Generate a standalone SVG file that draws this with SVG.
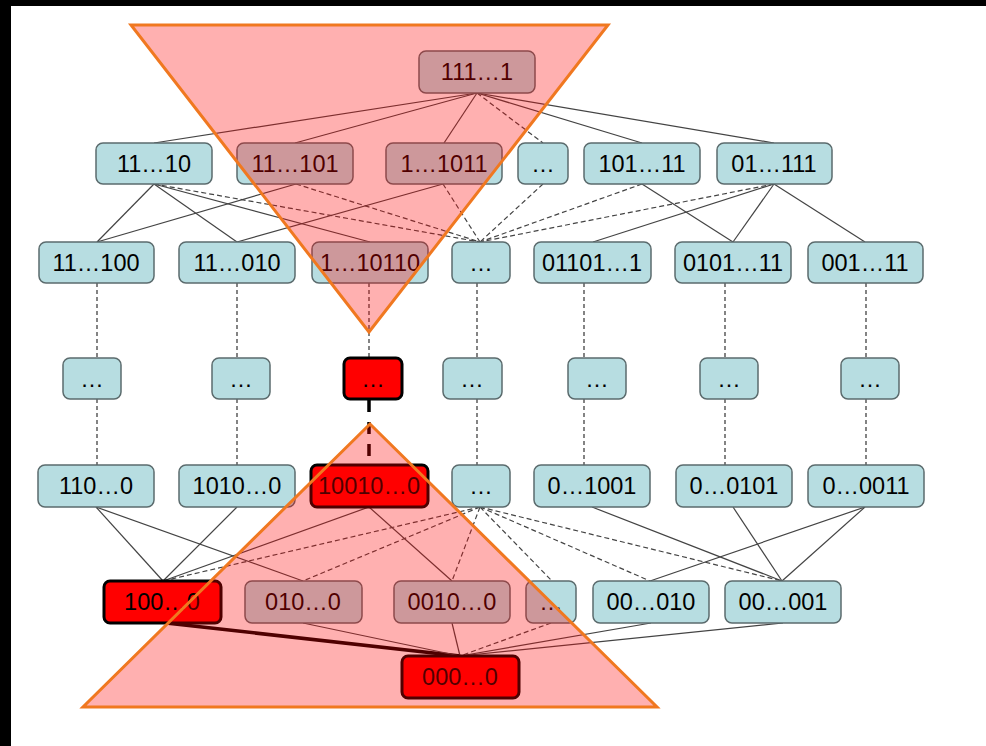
<svg xmlns="http://www.w3.org/2000/svg" width="986" height="746" viewBox="0 0 986 746">
<style>
.n rect{fill:#b7dde1;stroke:#5b6b6d;stroke-width:1.5}
.r rect{fill:#ff0000;stroke:#000;stroke-width:3}
text{font-family:"Liberation Sans",Arial,sans-serif;font-size:23.5px;fill:#000;text-anchor:middle}
.c line{stroke:#444;stroke-width:1.2;fill:none}
.c line.d{stroke-dasharray:5,3}
.c line.vd{stroke-dasharray:4,3;stroke:#333}
.tri{fill:#ff0000;fill-opacity:0.31;stroke:#f07820;stroke-width:3;stroke-linejoin:miter}
</style>
<rect x="0" y="0" width="986" height="746" fill="#fff"/>
<rect x="0" y="0" width="986" height="6" fill="#000"/>
<rect x="0" y="0" width="11" height="746" fill="#000"/>
<g id="connectors" class="c">
<line x1="477" y1="93" x2="154" y2="143"/>
<line x1="477" y1="93" x2="295" y2="143"/>
<line x1="477" y1="93" x2="444" y2="143"/>
<line class="d" x1="477" y1="93" x2="543" y2="143"/>
<line x1="477" y1="93" x2="642" y2="143"/>
<line x1="477" y1="93" x2="774" y2="143"/>
<line x1="154" y1="184" x2="97" y2="242"/>
<line x1="154" y1="184" x2="237" y2="242"/>
<line x1="154" y1="184" x2="370" y2="242"/>
<line class="d" x1="154" y1="184" x2="480" y2="242"/>
<line x1="296" y1="184" x2="97" y2="242"/>
<line class="d" x1="296" y1="184" x2="480" y2="242"/>
<line x1="443" y1="184" x2="237" y2="242"/>
<line class="d" x1="443" y1="184" x2="480" y2="242"/>
<line class="d" x1="543" y1="184" x2="480" y2="242"/>
<line class="d" x1="642" y1="184" x2="480" y2="242"/>
<line x1="642" y1="184" x2="733" y2="242"/>
<line class="d" x1="774" y1="184" x2="480" y2="242"/>
<line x1="774" y1="184" x2="593" y2="242"/>
<line x1="774" y1="184" x2="733" y2="242"/>
<line x1="774" y1="184" x2="865" y2="242"/>
<line class="vd" x1="97" y1="283" x2="97" y2="358"/>
<line class="vd" x1="97" y1="399" x2="97" y2="465"/>
<line class="vd" x1="237" y1="283" x2="237" y2="358"/>
<line class="vd" x1="237" y1="399" x2="237" y2="465"/>
<line class="vd" x1="369" y1="283" x2="369" y2="358"/>
<line x1="369" y1="400" x2="369" y2="465" style="stroke:#000;stroke-width:3.5;stroke-dasharray:12,10"/>
<line class="vd" x1="477" y1="283" x2="477" y2="358"/>
<line class="vd" x1="477" y1="399" x2="477" y2="465"/>
<line class="vd" x1="584" y1="283" x2="584" y2="358"/>
<line class="vd" x1="584" y1="399" x2="584" y2="465"/>
<line class="vd" x1="725" y1="283" x2="725" y2="358"/>
<line class="vd" x1="725" y1="399" x2="725" y2="465"/>
<line class="vd" x1="866" y1="283" x2="866" y2="358"/>
<line class="vd" x1="866" y1="399" x2="866" y2="465"/>
<line x1="96" y1="507" x2="163" y2="581"/>
<line x1="96" y1="507" x2="303" y2="581"/>
<line x1="237" y1="507" x2="163" y2="581"/>
<line x1="369" y1="507" x2="163" y2="581"/>
<line x1="369" y1="507" x2="452" y2="581"/>
<line class="d" x1="480" y1="507" x2="163" y2="581"/>
<line class="d" x1="480" y1="507" x2="303" y2="581"/>
<line class="d" x1="480" y1="507" x2="452" y2="581"/>
<line class="d" x1="480" y1="507" x2="552" y2="581"/>
<line class="d" x1="480" y1="507" x2="650" y2="581"/>
<line class="d" x1="480" y1="507" x2="782" y2="581"/>
<line x1="592" y1="507" x2="782" y2="581"/>
<line x1="733" y1="507" x2="782" y2="581"/>
<line x1="865" y1="507" x2="650" y2="581"/>
<line x1="865" y1="507" x2="782" y2="581"/>
<line x1="166" y1="623" x2="460" y2="656" style="stroke:#000;stroke-width:3.5"/>
<line x1="303" y1="623" x2="460" y2="656"/>
<line x1="452" y1="623" x2="460" y2="656"/>
<line class="d" x1="551" y1="623" x2="460" y2="656"/>
<line x1="651" y1="623" x2="460" y2="656"/>
<line x1="783" y1="623" x2="460" y2="656"/>
</g>
<g id="n111" class="n"><rect x="419" y="51" width="116" height="42" rx="7"/><text x="477" y="80">111…1</text></g>
<g id="n11_10" class="n"><rect x="96" y="143" width="116" height="41" rx="7"/><text x="154" y="172">11…10</text></g>
<g id="n11_101" class="n"><rect x="237" y="143" width="116" height="41" rx="7"/><text x="295" y="172">11…101</text></g>
<g id="n1_1011" class="n"><rect x="386" y="143" width="116" height="41" rx="7"/><text x="444" y="172">1…1011</text></g>
<g id="n_r1dots" class="n"><rect x="518" y="143" width="50" height="41" rx="7"/><text x="543" y="172">…</text></g>
<g id="n101_11" class="n"><rect x="584" y="143" width="116" height="41" rx="7"/><text x="642" y="172">101…11</text></g>
<g id="n01_111" class="n"><rect x="717" y="143" width="115" height="41" rx="7"/><text x="774" y="172">01…111</text></g>
<g id="n11_100" class="n"><rect x="39" y="242" width="115" height="41" rx="7"/><text x="96" y="271">11…100</text></g>
<g id="n11_010" class="n"><rect x="179" y="242" width="116" height="41" rx="7"/><text x="237" y="271">11…010</text></g>
<g id="n1_10110" class="n"><rect x="312" y="242" width="116" height="41" rx="7"/><text x="370" y="271">1…10110</text></g>
<g id="n_r2dots" class="n"><rect x="452" y="242" width="58" height="41" rx="7"/><text x="481" y="271">…</text></g>
<g id="n01101_1" class="n"><rect x="534" y="242" width="117" height="41" rx="7"/><text x="592" y="271">01101…1</text></g>
<g id="n0101_11" class="n"><rect x="675" y="242" width="116" height="41" rx="7"/><text x="733" y="271">0101…11</text></g>
<g id="n001_11" class="n"><rect x="808" y="242" width="115" height="41" rx="7"/><text x="865" y="271">001…11</text></g>
<g id="n_r3a" class="n"><rect x="63" y="358" width="58" height="41" rx="7"/><text x="92" y="387">…</text></g>
<g id="n_r3b" class="n"><rect x="212" y="358" width="58" height="41" rx="7"/><text x="241" y="387">…</text></g>
<g id="n_r3c" class="r"><rect x="344" y="358" width="58" height="41" rx="6"/><text x="373" y="387">…</text></g>
<g id="n_r3d" class="n"><rect x="443" y="358" width="59" height="41" rx="7"/><text x="472" y="387">…</text></g>
<g id="n_r3e" class="n"><rect x="568" y="358" width="58" height="41" rx="7"/><text x="597" y="387">…</text></g>
<g id="n_r3f" class="n"><rect x="700" y="358" width="58" height="41" rx="7"/><text x="729" y="387">…</text></g>
<g id="n_r3g" class="n"><rect x="841" y="358" width="58" height="41" rx="7"/><text x="870" y="387">…</text></g>
<g id="n110_0" class="n"><rect x="38" y="465" width="116" height="42" rx="7"/><text x="96" y="494">110…0</text></g>
<g id="n1010_0" class="n"><rect x="179" y="465" width="116" height="42" rx="7"/><text x="237" y="494">1010…0</text></g>
<g id="n10010_0" class="r"><rect x="311" y="465" width="117" height="42" rx="6"/><text x="369" y="494">10010…0</text></g>
<g id="n_r4dots" class="n"><rect x="452" y="465" width="58" height="42" rx="7"/><text x="481" y="494">…</text></g>
<g id="n0_1001" class="n"><rect x="534" y="465" width="116" height="42" rx="7"/><text x="592" y="494">0…1001</text></g>
<g id="n0_0101" class="n"><rect x="676" y="465" width="116" height="42" rx="7"/><text x="734" y="494">0…0101</text></g>
<g id="n0_0011" class="n"><rect x="808" y="465" width="116" height="42" rx="7"/><text x="866" y="494">0…0011</text></g>
<g id="n100_0" class="r"><rect x="104" y="581" width="117" height="42" rx="6"/><text x="162" y="610">100…0</text></g>
<g id="n010_0" class="n"><rect x="245" y="581" width="117" height="42" rx="7"/><text x="303" y="610">010…0</text></g>
<g id="n0010_0" class="n"><rect x="394" y="581" width="116" height="42" rx="7"/><text x="452" y="610">0010…0</text></g>
<g id="n_r5dots" class="n"><rect x="526" y="581" width="50" height="42" rx="7"/><text x="551" y="610">…</text></g>
<g id="n00_010" class="n"><rect x="593" y="581" width="116" height="42" rx="7"/><text x="651" y="610">00…010</text></g>
<g id="n00_001" class="n"><rect x="725" y="581" width="116" height="42" rx="7"/><text x="783" y="610">00…001</text></g>
<g id="n000_0" class="r"><rect x="402" y="656" width="117" height="42" rx="6"/><text x="460" y="685">000…0</text></g>
<g id="triangles">
<polygon class="tri" points="131,25 608,25 369,332"/>
<polygon class="tri" points="370,424 83,707 657,707"/>
</g>
</svg>
